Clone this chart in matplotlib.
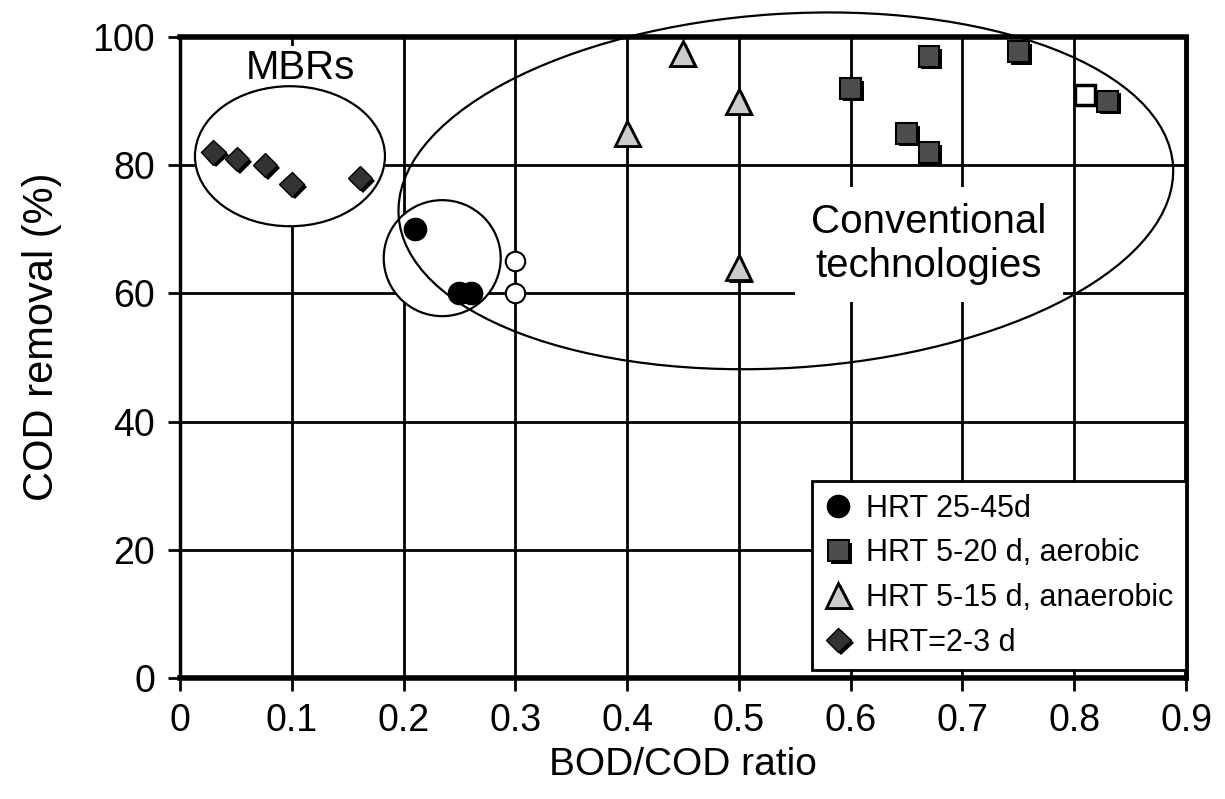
import matplotlib
matplotlib.use("Agg")
import matplotlib.pyplot as plt
import matplotlib.patheffects as pe
from matplotlib.patches import Ellipse
from matplotlib.transforms import ScaledTranslation

plt.rcParams['font.family'] = ['Liberation Sans', 'DejaVu Sans']

# --- data ---
hrt_long_x = [0.21, 0.25, 0.26]          # HRT 25-45d (filled circles)
hrt_long_y = [70, 60, 60]
open_circle_x = [0.30, 0.30]
open_circle_y = [65, 60]

aerobic_x = [0.60, 0.67, 0.75, 0.65, 0.67, 0.83]   # HRT 5-20 d, aerobic
aerobic_y = [92, 97, 97.7, 85, 82, 90]
open_square_x = [0.81]
open_square_y = [91]

anaerobic_x = [0.40, 0.45, 0.50, 0.50]   # HRT 5-15 d, anaerobic
anaerobic_y = [85, 97.5, 90, 64]

mbr_x = [0.03, 0.051, 0.076, 0.10, 0.161]  # HRT=2-3 d
mbr_y = [82, 81, 80, 77, 78]

x_ticks = [0, 0.1, 0.2, 0.3, 0.4, 0.5, 0.6, 0.7, 0.8, 0.9]
x_tick_labels = ['0', '0.1', '0.2', '0.3', '0.4', '0.5', '0.6', '0.7', '0.8', '0.9']
y_ticks = [0, 20, 40, 60, 80, 100]

fig = plt.figure(figsize=(12.25, 7.99), dpi=100)
ax = fig.add_axes([0.1469, 0.1514, 0.8213, 0.8023])

shadow = [pe.SimplePatchShadow(offset=(2, -2), shadow_rgbFace='black', alpha=1.0), pe.Normal()]

ax.plot(hrt_long_x, hrt_long_y, 'o', ms=16, color='black', mec='black',
        label='HRT 25-45d', zorder=5)
ax.plot(open_circle_x, open_circle_y, 'o', ms=14, mfc='white', mec='black',
        mew=1.5, label='_nolegend_', zorder=5)
ax.plot(aerobic_x, aerobic_y, 's', ms=15, mfc='#4d4d4d', mec='black', mew=1.5,
        label='HRT 5-20 d, aerobic', zorder=5, path_effects=shadow)
ax.plot(open_square_x, open_square_y, 's', ms=14, mfc='white', mec='black', mew=2.5,
        label='_nolegend_', zorder=5)
ax.plot(anaerobic_x, anaerobic_y, '^', ms=18, mfc='#cccccc', mec='black', mew=2,
        label='HRT 5-15 d, anaerobic', zorder=5, path_effects=shadow)
ax.plot(mbr_x, mbr_y, 'D', ms=12.5, mfc='#333333', mec='black', mew=1,
        label='HRT=2-3 d', zorder=5, path_effects=shadow)

ax.set_xlim(0, 0.9)
ax.set_ylim(0, 100)
ax.set_xticks(x_ticks)
ax.set_xticklabels(x_tick_labels)
ax.set_yticks(y_ticks)
ax.tick_params(direction='out', length=9, width=2, labelsize=27, pad=9)

ax.set_axisbelow(True)
ax.grid(True, color='black', linewidth=2)

for side, lw in [('top', 4), ('right', 3.5), ('bottom', 4), ('left', 2.5)]:
    ax.spines[side].set_linewidth(lw)

ax.set_xlabel('BOD/COD ratio', fontsize=28)
ax.set_ylabel('COD removal (%)', fontsize=30)
ax.xaxis.set_label_coords(0.5, -0.108)
ax.yaxis.set_label_coords(-0.117, 0.532)


def ring(cx, cy, w_in, h_in, angle=0, fill=False, z=1):
    # ellipse sized in inches, centred on a data point
    tr = fig.dpi_scale_trans + ScaledTranslation(cx, cy, ax.transData)
    e = Ellipse((0, 0), w_in, h_in, angle=angle, transform=tr,
                facecolor='white' if fill else 'none', edgecolor='black',
                linewidth=1.6, clip_on=False, zorder=z)
    ax.add_patch(e)


ring(0.0984, 81.4, 1.90, 1.40, fill=True, z=1)
ring(0.2346, 65.5, 1.17, 1.16, fill=True, z=1)
ring(0.542, 76.0, 7.76, 3.54, angle=3.7, fill=False, z=4)

ax.text(0.108, 95.2, 'MBRs', fontsize=29, ha='center', va='center', zorder=0.8,
        bbox=dict(facecolor='white', edgecolor='none', pad=2))
ax.text(0.67, 67.7, 'Conventional\ntechnologies', fontsize=29, ha='center',
        va='center', linespacing=1.2, zorder=3,
        bbox=dict(facecolor='white', edgecolor='none', pad=12))

leg = ax.legend(loc='lower right', bbox_to_anchor=(1.0, 0.012), fontsize=22,
                frameon=True, fancybox=False, framealpha=1, edgecolor='black',
                handlelength=0.9, handletextpad=0.45, labelspacing=0.48,
                borderpad=0.42, borderaxespad=0)
leg.get_frame().set_linewidth(2)
leg.set_zorder(6)

fig.savefig('out.png', dpi=100)
